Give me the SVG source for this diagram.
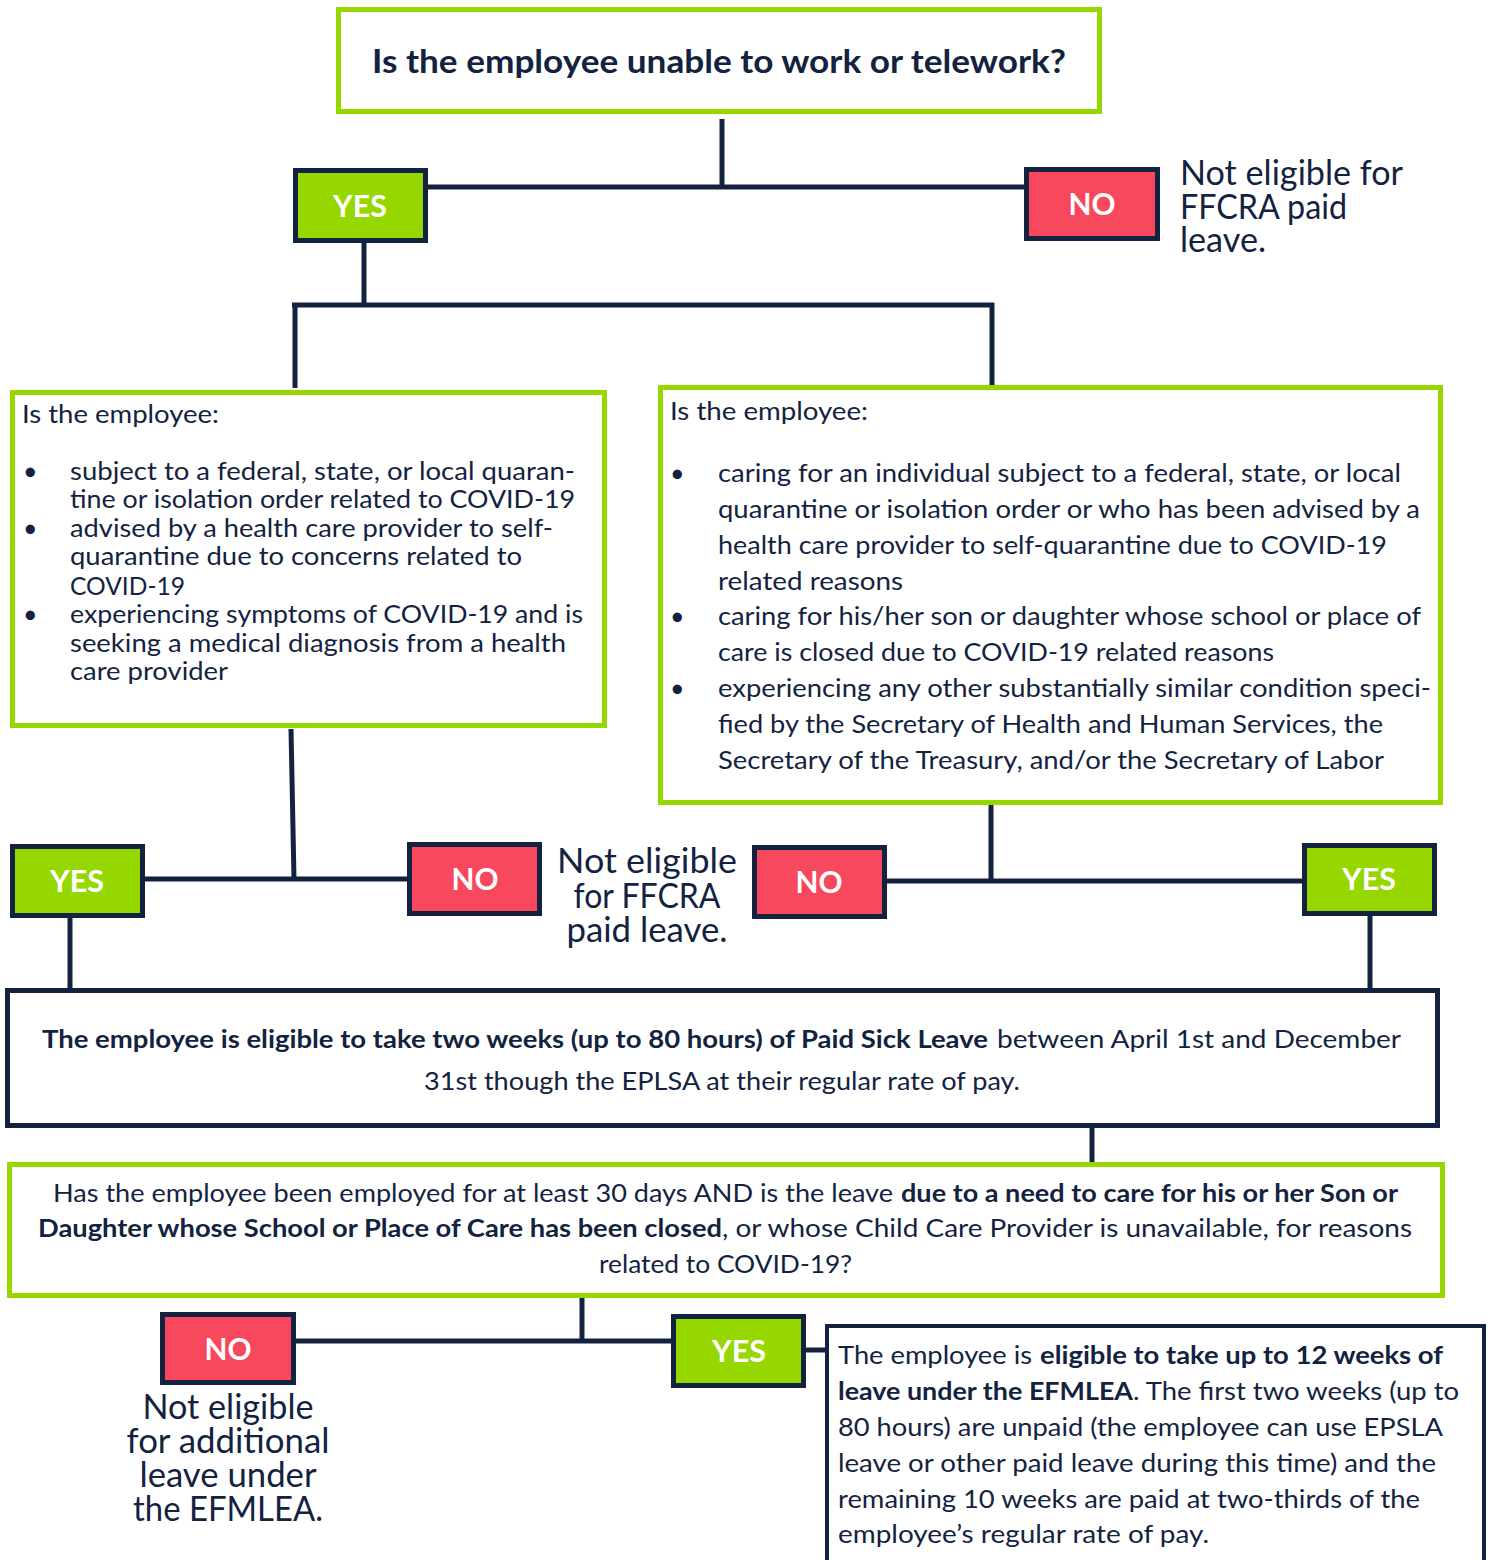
<svg xmlns="http://www.w3.org/2000/svg" width="1488" height="1560" viewBox="0 0 1488 1560">
<style>
.t{font-family:Lato,"Open Sans","Liberation Sans",sans-serif;fill:#13233F;font-size:25px}
.b{font-weight:bold}
.h{font-size:32px;font-weight:bold}
.k{font-family:Lato,"Open Sans","Liberation Sans",sans-serif;fill:#ffffff;font-size:30px;font-weight:bold;text-anchor:middle}
.n{font-size:35px}
.c{text-anchor:middle}
.gbox{fill:#ffffff;stroke:#97D700;stroke-width:5}
.dbox{fill:#ffffff;stroke:#13233F;stroke-width:5}
.yes{fill:#97D700;stroke:#13233F;stroke-width:5}
.no{fill:#F8485E;stroke:#13233F;stroke-width:5}
.ln{fill:none;stroke:#13233F;stroke-width:5}
</style>
<rect width="1488" height="1560" fill="#ffffff"/>
<g id="connectors">
<path class="ln" d="M722,119 V187"/>
<path class="ln" d="M426,187 H1027"/>
<path class="ln" d="M364,242 V306"/>
<path class="ln" d="M292,305 H994"/>
<path class="ln" d="M295,304 V388"/>
<path class="ln" d="M992,303 V386"/>
<path class="ln" d="M291,729 L294,879"/>
<path class="ln" d="M143,879 H409"/>
<path class="ln" d="M991,804 V881"/>
<path class="ln" d="M885,881 H1305"/>
<path class="ln" d="M70,917 V990"/>
<path class="ln" d="M1370,915 V990"/>
<path class="ln" d="M1092,1127 V1164"/>
<path class="ln" d="M582,1297 V1341"/>
<path class="ln" d="M294,1341 H674"/>
<path class="ln" d="M804,1350 H828"/>
</g>
<g id="q1">
<rect class="gbox" x="338.5" y="9.5" width="761" height="102"/>
<text class="t h" x="372" y="73" textLength="694" lengthAdjust="spacingAndGlyphs">Is the employee unable to work or telework?</text>
</g>
<g id="yes1">
<rect class="yes" x="295.5" y="170.5" width="130" height="70"/>
<text class="k" x="360" y="217" textLength="54" lengthAdjust="spacingAndGlyphs">YES</text>
</g>
<g id="no1">
<rect class="no" x="1026.5" y="169.5" width="131" height="69"/>
<text class="k" x="1092" y="215" textLength="47" lengthAdjust="spacingAndGlyphs">NO</text>
</g>
<g id="notelig1">
<text class="t n" x="1180" y="185" textLength="223" lengthAdjust="spacingAndGlyphs">Not eligible for</text>
<text class="t n" x="1180" y="219" textLength="167" lengthAdjust="spacingAndGlyphs">FFCRA paid</text>
<text class="t n" x="1180" y="252" textLength="86" lengthAdjust="spacingAndGlyphs">leave.</text>
</g>
<g id="q2left">
<rect class="gbox" x="12.5" y="392.5" width="592" height="333"/>
<text class="t" x="22" y="423" textLength="197" lengthAdjust="spacingAndGlyphs">Is the employee:</text>
<text class="t" x="23" y="480">•</text>
<text class="t" x="23" y="537">•</text>
<text class="t" x="23" y="623">•</text>
<text class="t" x="70" y="480" textLength="505" lengthAdjust="spacingAndGlyphs">subject to a federal, state, or local quaran-</text>
<text class="t" x="70" y="508" textLength="505" lengthAdjust="spacingAndGlyphs">tine or isolation order related to COVID-19</text>
<text class="t" x="70" y="537" textLength="483" lengthAdjust="spacingAndGlyphs">advised by a health care provider to self-</text>
<text class="t" x="70" y="565" textLength="452" lengthAdjust="spacingAndGlyphs">quarantine due to concerns related to</text>
<text class="t" x="70" y="595" textLength="115" lengthAdjust="spacingAndGlyphs">COVID-19</text>
<text class="t" x="70" y="623" textLength="513" lengthAdjust="spacingAndGlyphs">experiencing symptoms of COVID-19 and is</text>
<text class="t" x="70" y="652" textLength="496" lengthAdjust="spacingAndGlyphs">seeking a medical diagnosis from a health</text>
<text class="t" x="70" y="680" textLength="158" lengthAdjust="spacingAndGlyphs">care provider</text>
</g>
<g id="q2right">
<rect class="gbox" x="660.5" y="387.5" width="780" height="415"/>
<text class="t" x="670" y="420" textLength="198" lengthAdjust="spacingAndGlyphs">Is the employee:</text>
<text class="t" x="670" y="482">•</text>
<text class="t" x="670" y="625">•</text>
<text class="t" x="670" y="697">•</text>
<text class="t" x="718" y="482" textLength="683" lengthAdjust="spacingAndGlyphs">caring for an individual subject to a federal, state, or local</text>
<text class="t" x="718" y="518" textLength="702" lengthAdjust="spacingAndGlyphs">quarantine or isolation order or who has been advised by a</text>
<text class="t" x="718" y="554" textLength="669" lengthAdjust="spacingAndGlyphs">health care provider to self-quarantine due to COVID-19</text>
<text class="t" x="718" y="590" textLength="185" lengthAdjust="spacingAndGlyphs">related reasons</text>
<text class="t" x="718" y="625" textLength="703" lengthAdjust="spacingAndGlyphs">caring for his/her son or daughter whose school or place of</text>
<text class="t" x="718" y="661" textLength="556" lengthAdjust="spacingAndGlyphs">care is closed due to COVID-19 related reasons</text>
<text class="t" x="718" y="697" textLength="713" lengthAdjust="spacingAndGlyphs">experiencing any other substantially similar condition speci-</text>
<text class="t" x="718" y="733" textLength="665" lengthAdjust="spacingAndGlyphs">fied by the Secretary of Health and Human Services, the</text>
<text class="t" x="718" y="769" textLength="666" lengthAdjust="spacingAndGlyphs">Secretary of the Treasury, and/or the Secretary of Labor</text>
</g>
<g id="yes2">
<rect class="yes" x="12.5" y="846.5" width="130" height="69"/>
<text class="k" x="77" y="892" textLength="54" lengthAdjust="spacingAndGlyphs">YES</text>
</g>
<g id="no2">
<rect class="no" x="409.5" y="844.5" width="130" height="69"/>
<text class="k" x="475" y="890" textLength="47" lengthAdjust="spacingAndGlyphs">NO</text>
</g>
<g id="notelig2">
<text class="t n c" x="647" y="873" textLength="180" lengthAdjust="spacingAndGlyphs">Not  eligible</text>
<text class="t n c" x="647" y="908" textLength="147" lengthAdjust="spacingAndGlyphs">for FFCRA</text>
<text class="t n c" x="647" y="942" textLength="161" lengthAdjust="spacingAndGlyphs">paid leave.</text>
</g>
<g id="no3">
<rect class="no" x="754.5" y="847.5" width="130" height="69"/>
<text class="k" x="819" y="893" textLength="47" lengthAdjust="spacingAndGlyphs">NO</text>
</g>
<g id="yes3">
<rect class="yes" x="1304.5" y="845.5" width="130" height="68"/>
<text class="k" x="1369" y="890" textLength="54" lengthAdjust="spacingAndGlyphs">YES</text>
</g>
<g id="psl">
<rect class="dbox" x="7.5" y="990.5" width="1430" height="135"/>
<text class="t b" x="42" y="1048" textLength="946" lengthAdjust="spacingAndGlyphs">The employee is eligible to take two weeks (up to 80 hours) of Paid Sick Leave</text>
<text class="t" x="997" y="1048" textLength="404" lengthAdjust="spacingAndGlyphs">between April 1st  and December</text>
<text class="t" x="424" y="1090" textLength="596" lengthAdjust="spacingAndGlyphs">31st though the EPLSA at their regular rate of pay.</text>
</g>
<g id="q3">
<rect class="gbox" x="9.5" y="1164.5" width="1433" height="131"/>
<text class="t" x="53" y="1202" textLength="840" lengthAdjust="spacingAndGlyphs">Has the employee been employed for at least 30 days AND is the leave</text>
<text class="t b" x="901" y="1202" textLength="497" lengthAdjust="spacingAndGlyphs">due to a need to care for his or her Son or</text>
<text class="t b" x="38" y="1237" textLength="684" lengthAdjust="spacingAndGlyphs">Daughter whose School or Place of Care has been closed</text>
<text class="t" x="722" y="1237" textLength="690" lengthAdjust="spacingAndGlyphs">, or whose Child Care Provider is unavailable, for reasons</text>
<text class="t" x="599" y="1273" textLength="253" lengthAdjust="spacingAndGlyphs">related to COVID-19?</text>
</g>
<g id="no4">
<rect class="no" x="162.5" y="1314.5" width="131" height="68"/>
<text class="k" x="228" y="1360" textLength="47" lengthAdjust="spacingAndGlyphs">NO</text>
</g>
<g id="notelig3">
<text class="t n c" x="228" y="1419" textLength="171" lengthAdjust="spacingAndGlyphs">Not eligible</text>
<text class="t n c" x="228" y="1453" textLength="203" lengthAdjust="spacingAndGlyphs">for additional</text>
<text class="t n c" x="228" y="1487" textLength="177" lengthAdjust="spacingAndGlyphs">leave under</text>
<text class="t n c" x="228" y="1521" textLength="190" lengthAdjust="spacingAndGlyphs">the EFMLEA.</text>
</g>
<g id="yes4">
<rect class="yes" x="673.5" y="1316.5" width="130" height="69"/>
<text class="k" x="739" y="1362" textLength="54" lengthAdjust="spacingAndGlyphs">YES</text>
</g>
<g id="efmlea">
<rect class="dbox" x="827" y="1326" width="657" height="245" style="stroke-width:4"/>
<text class="t" x="838" y="1364" textLength="194" lengthAdjust="spacingAndGlyphs">The employee is</text>
<text class="t b" x="1040" y="1364" textLength="403" lengthAdjust="spacingAndGlyphs">eligible to take up to 12 weeks of</text>
<text class="t b" x="838" y="1400" textLength="295" lengthAdjust="spacingAndGlyphs">leave under the EFMLEA</text>
<text class="t" x="1133" y="1400" textLength="326" lengthAdjust="spacingAndGlyphs">. The first two weeks (up to</text>
<text class="t" x="838" y="1436" textLength="605" lengthAdjust="spacingAndGlyphs">80 hours) are unpaid (the employee can use EPSLA</text>
<text class="t" x="838" y="1472" textLength="598" lengthAdjust="spacingAndGlyphs">leave or other paid leave during this time) and the</text>
<text class="t" x="838" y="1508" textLength="582" lengthAdjust="spacingAndGlyphs">remaining 10 weeks are paid at two-thirds of the</text>
<text class="t" x="838" y="1543" textLength="371" lengthAdjust="spacingAndGlyphs">employee’s regular rate of pay.</text>
</g>
</svg>
